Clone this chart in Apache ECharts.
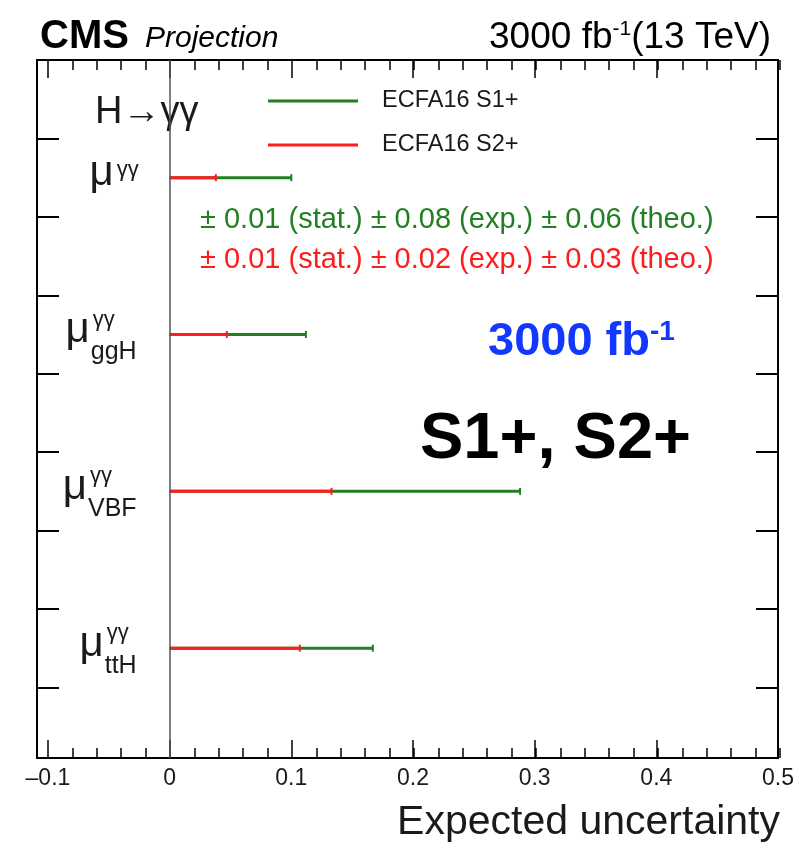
<!DOCTYPE html>
<html>
<head>
<meta charset="utf-8">
<script src="https://cdn.jsdelivr.net/npm/echarts@6/dist/echarts.min.js"></script>
<style>
  html, body { margin: 0; padding: 0; background: #fff; }
  #chart { width: 797px; height: 846px; }
</style>
</head>
<body>
<div id="chart"></div>
<script>
// subscripts of mu^gammagamma, top to bottom
const categories = ['', 'ggH', 'VBF', 'ttH'];
const s1Values = [0.100, 0.112, 0.288, 0.167];  // ECFA16 S1+
const s2Values = [0.038, 0.047, 0.133, 0.107];  // ECFA16 S2+
const xTicks = [-0.1, 0, 0.1, 0.2, 0.3, 0.4, 0.5];
const xMinorTicks = [];
for (let k = -5; k <= 25; k++) xMinorTicks.push(+(k * 0.02).toFixed(2));
const yTicks = [1, 2, 3, 4, 5, 6, 7, 8];

const FONT = "'Liberation Sans', Arial, Helvetica, sans-serif";
const GREEN = '#237f23';
const RED = '#ff1c1c';
const BLUE = '#1238ff';
const INK = '#1a1a1a';
const X_MIN = -0.109, X_MAX = 0.5;

// row centre on the (hidden) y value axis
const rowPos = categories.map((c, i) => 1.5 + 2 * i);

const chart = echarts.init(document.getElementById('chart'));

const measureCtx = document.createElement('canvas').getContext('2d');
function textWidth(str, font) {
    measureCtx.font = font;
    return measureCtx.measureText(str).width;
}

function barItem(params, api) {
    const y = api.value(1);
    const a = api.coord([0, y]);
    const b = api.coord([api.value(0), y]);
    const color = api.visual('color');
    return {
        type: 'group',
        children: [
            { type: 'line', shape: { x1: a[0], y1: a[1], x2: b[0], y2: b[1] }, style: { stroke: color, lineWidth: 3 } },
            { type: 'line', shape: { x1: b[0], y1: b[1] - 3.5, x2: b[0], y2: b[1] + 3.5 }, style: { stroke: color, lineWidth: 2 } }
        ]
    };
}

function labelItem(params, api) {
    const p = api.coord([0, api.value(1)]);
    const sub = categories[params.dataIndex];
    const muFont = '42px ' + FONT;
    const supFont = '22px ' + FONT;
    const subFont = '25px ' + FONT;
    const right = p[0] - 33;
    const w = Math.max(textWidth('γγ', supFont), sub ? textWidth(sub, subFont) : 0);
    const L = right - w;
    const children = [
        { type: 'text', style: { text: 'μ', x: L - 1, y: p[1] - 4, font: muFont, fill: INK, align: 'right', verticalAlign: 'middle' } },
        { type: 'text', style: { text: 'γγ', x: L + 2, y: p[1] + (sub ? -15 : -8), font: supFont, fill: INK, align: 'left', verticalAlign: 'middle' } }
    ];
    if (sub) {
        children.push({ type: 'text', style: { text: sub, x: L, y: p[1] + 18, font: subFont, fill: INK, align: 'left', verticalAlign: 'middle' } });
    }
    return { type: 'group', children: children };
}

const frameLine = { show: true, onZero: false, lineStyle: { color: '#000', width: 2 } };
const gridBox = { left: 37, right: 17, top: 60, bottom: 88, containLabel: false };

function xAxisDef(grid, position, ticks, len, withLine, withLabel) {
    return {
        type: 'value', gridIndex: grid, position: position, min: X_MIN, max: X_MAX,
        axisLine: withLine ? frameLine : { show: false, onZero: false },
        splitLine: { show: false },
        axisTick: { show: true, inside: true, length: len, customValues: ticks, lineStyle: { color: '#000', width: 1.5 } },
        axisLabel: withLabel ? {
            show: true, customValues: ticks, margin: 9, fontSize: 23, color: INK, fontFamily: FONT,
            formatter: v => (v < 0 ? '\u2013' + Math.abs(v) : String(v))
        } : { show: false }
    };
}

function yAxisDef(grid, position, show) {
    return {
        type: 'value', gridIndex: grid, position: position, inverse: true, min: 0, max: 8.9,
        show: show,
        axisLine: frameLine, splitLine: { show: false }, axisLabel: { show: false },
        axisTick: { show: true, inside: true, length: 22, customValues: yTicks, lineStyle: { color: '#000', width: 2 } }
    };
}

const option = {
    animation: false,
    backgroundColor: '#fff',
    textStyle: { fontFamily: FONT },
    // grid 0: data, frame and major ticks; grid 1 (same box): minor ticks only
    grid: [Object.assign({}, gridBox), Object.assign({}, gridBox)],
    legend: {
        orient: 'vertical',
        left: 263,
        top: 84,
        itemWidth: 90,
        itemHeight: 3,
        itemGap: 20,
        icon: 'rect',
        data: ['ECFA16 S1+', 'ECFA16 S2+'],
        textStyle: { fontSize: 23.5, color: INK, lineHeight: 24, padding: [0, 0, 0, 19], fontFamily: FONT }
    },
    xAxis: [
        xAxisDef(0, 'bottom', xTicks, 18, true, true),
        xAxisDef(0, 'top', xTicks, 18, true, false),
        xAxisDef(1, 'bottom', xMinorTicks, 10, false, false),
        xAxisDef(1, 'top', xMinorTicks, 10, false, false)
    ],
    yAxis: [
        yAxisDef(0, 'left', true),
        yAxisDef(0, 'right', true),
        yAxisDef(1, 'left', false)
    ],
    series: [
        {
            name: 'labels',
            type: 'custom',
            silent: true,
            z: 1,
            renderItem: labelItem,
            data: categories.map((c, i) => [0, rowPos[i]]),
            markLine: {
                silent: true,
                symbol: 'none',
                label: { show: false },
                lineStyle: { color: '#555', width: 1.5, type: 'solid' },
                data: [{ xAxis: 0 }]
            }
        },
        {
            name: 'ECFA16 S1+',
            type: 'custom',
            z: 3,
            itemStyle: { color: GREEN },
            renderItem: barItem,
            data: s1Values.map((v, i) => [v, rowPos[i]])
        },
        {
            name: 'ECFA16 S2+',
            type: 'custom',
            z: 4,
            itemStyle: { color: RED },
            renderItem: barItem,
            data: s2Values.map((v, i) => [v, rowPos[i]])
        }
    ],
    graphic: [
        { type: 'text', style: { text: 'CMS', x: 40, y: 37, font: 'bold 40px ' + FONT, fill: '#000', verticalAlign: 'middle' } },
        { type: 'text', style: { text: 'Projection', x: 145, y: 39, font: 'italic 30px ' + FONT, fill: '#000', verticalAlign: 'middle' } },
        {
            type: 'text',
            style: {
                text: '{a|3000 fb}{s|-1}{a|(13 TeV)}',
                x: 771, y: 38, align: 'right', verticalAlign: 'middle',
                rich: {
                    a: { fontSize: 37, fontFamily: FONT, fill: '#000', lineHeight: 38 },
                    s: { fontSize: 21, fontFamily: FONT, fill: '#000', lineHeight: 21, verticalAlign: 'top' }
                }
            }
        },
        { type: 'text', style: { text: 'H\u2192\u03b3\u03b3', x: 95, y: 113, font: '38px ' + FONT, fill: INK, verticalAlign: 'middle' } },
        { type: 'text', style: { text: '\u00b1 0.01 (stat.) \u00b1 0.08 (exp.) \u00b1 0.06 (theo.)', x: 200, y: 220, font: '29px ' + FONT, fill: GREEN, verticalAlign: 'middle' } },
        { type: 'text', style: { text: '\u00b1 0.01 (stat.) \u00b1 0.02 (exp.) \u00b1 0.03 (theo.)', x: 200, y: 260, font: '29px ' + FONT, fill: RED, verticalAlign: 'middle' } },
        {
            type: 'text',
            style: {
                text: '{a|3000 fb}{s|-1}',
                x: 488, y: 342, verticalAlign: 'middle',
                rich: {
                    a: { fontSize: 47, fontWeight: 'bold', fontFamily: FONT, fill: BLUE, lineHeight: 48 },
                    s: { fontSize: 28, fontWeight: 'bold', fontFamily: FONT, fill: BLUE, lineHeight: 28, verticalAlign: 'top' }
                }
            }
        },
        { type: 'text', style: { text: 'S1+, S2+', x: 420, y: 440, font: 'bold 65px ' + FONT, fill: '#000', verticalAlign: 'middle' } },
        { type: 'text', style: { text: 'Expected uncertainty', x: 780, y: 823, font: '41px ' + FONT, fill: INK, align: 'right', verticalAlign: 'middle' } }
    ]
};

chart.setOption(option);
</script>
</body>
</html>
